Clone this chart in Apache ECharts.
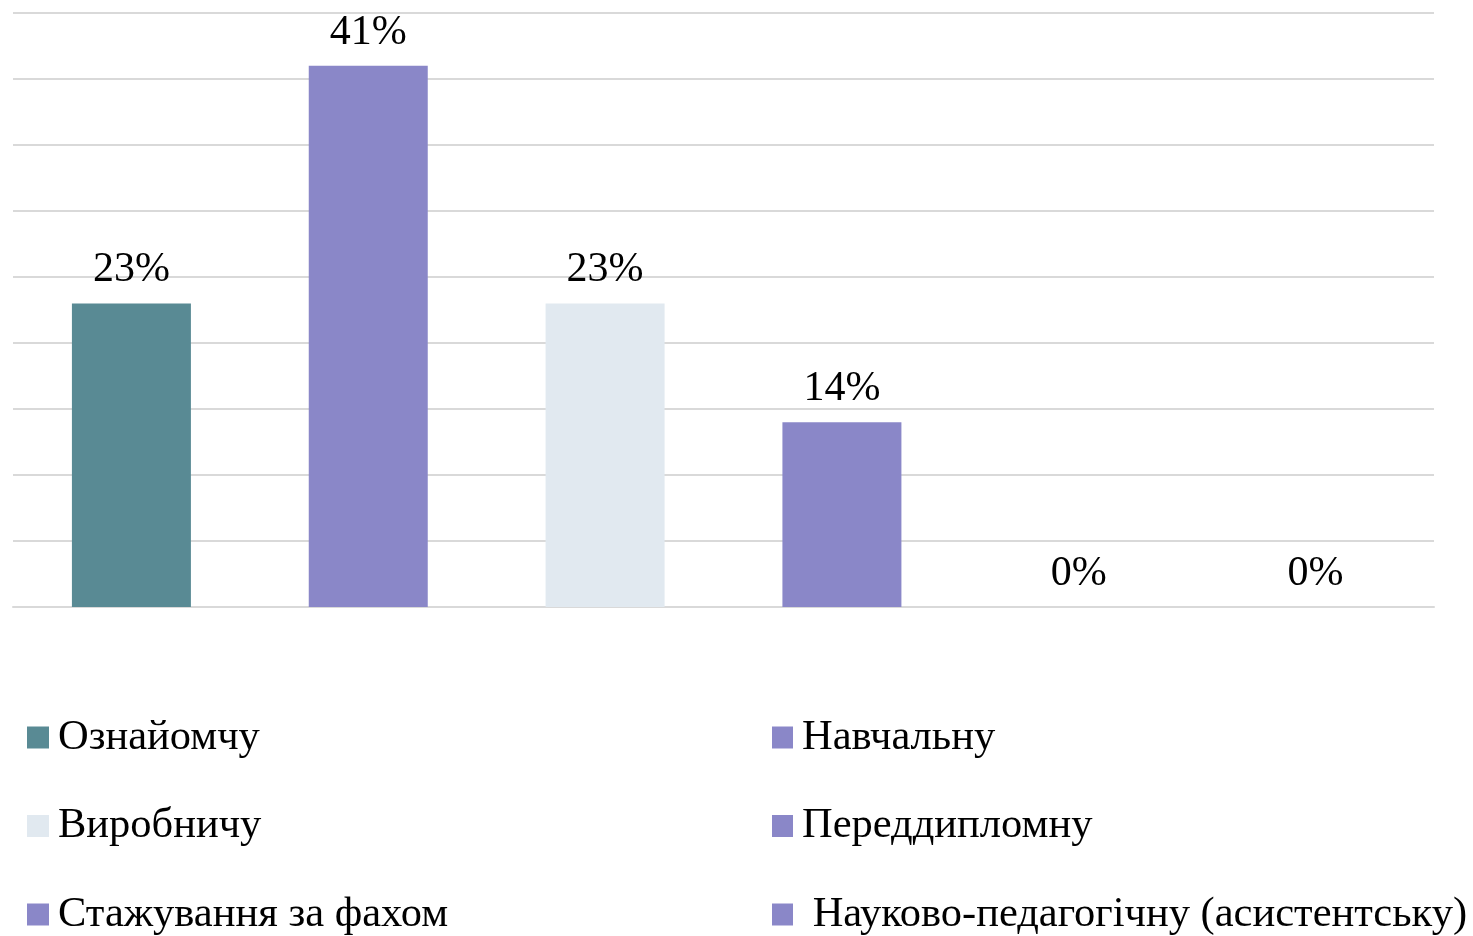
<!DOCTYPE html>
<html>
<head>
<meta charset="utf-8">
<script src="https://cdn.jsdelivr.net/npm/echarts@6/dist/echarts.min.js"></script>
<style>
html,body{margin:0;padding:0;background:#fff;}
#main{width:1473px;height:936px;}
</style>
</head>
<body>
<div id="main"></div>
<script>
var categories = ['Ознайомчу', 'Навчальну', 'Виробничу', 'Переддипломну', 'Стажування за фахом', ' Науково-педагогічну (асистентську)'];
var values = [23, 41, 23, 14, 0, 0];
var colors = ['#598A94', '#8A87C8', '#E1E9F0', '#8A87C8', '#8A87C8', '#8A87C8'];

var FONT = '"Liberation Serif", "Times New Roman", serif';

var series = categories.map(function (name, i) {
  return {
    name: name,
    type: 'bar',
    stack: 'all',
    barWidth: 119,
    itemStyle: { color: colors[i] },
    label: {
      show: true,
      position: 'top',
      distance: 12,
      formatter: function (p) { return p.value + '%'; },
      fontFamily: FONT,
      fontSize: 42,
      color: '#000'
    },
    data: categories.map(function (_, j) { return j === i ? values[i] : null; })
  };
});

var legendText = { fontFamily: FONT, fontSize: 42.5, lineHeight: 40, color: '#000', padding: [0, 0, 0, 4] };

var chart = echarts.init(document.getElementById('main'));
chart.setOption({
  animation: false,
  grid: { left: 13, right: 39, top: 13, bottom: 329, containLabel: false },
  xAxis: {
    type: 'category',
    data: categories,
    axisLine: { show: true, lineStyle: { color: '#d9d9d9', width: 2 } },
    axisTick: { show: false },
    axisLabel: { show: false }
  },
  yAxis: {
    type: 'value',
    min: 0, max: 45, interval: 5,
    axisLabel: { show: false },
    axisLine: { show: false },
    axisTick: { show: false },
    splitLine: { lineStyle: { color: '#d9d9d9', width: 2 } }
  },
  legend: [
    {
      data: [categories[0], categories[2], categories[4]],
      orient: 'vertical',
      left: 27, top: 716, height: 400, padding: 0,
      itemWidth: 22, itemHeight: 22, itemGap: 45.5,
      icon: 'rect',
      textStyle: legendText
    },
    {
      data: [categories[1], categories[3], categories[5]],
      orient: 'vertical',
      left: 772, top: 716, height: 400, padding: 0,
      itemWidth: 21, itemHeight: 22, itemGap: 45.5,
      icon: 'rect',
      textStyle: legendText
    }
  ],
  series: series
});
</script>
</body>
</html>
